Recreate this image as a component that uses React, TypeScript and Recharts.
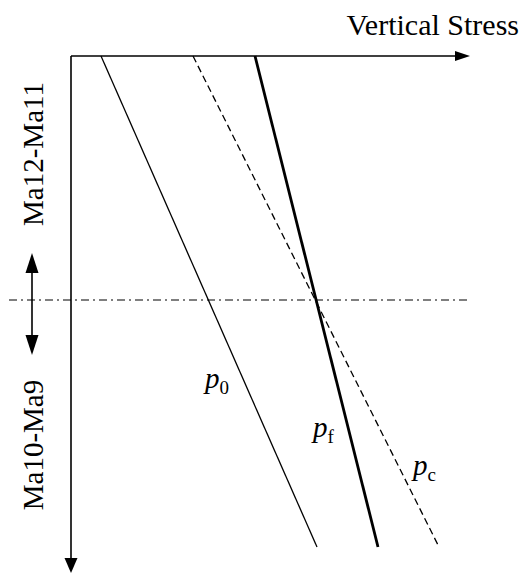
import { ScatterChart, Scatter, XAxis, YAxis } from 'recharts';

// Pressure profiles: x = stress, y = depth (0 at the top of the section)
const P0 = [
  { x: 7.5, y: 0 },
  { x: 61.5, y: 98.2 },
];
const PF = [
  { x: 46, y: 0 },
  { x: 76.75, y: 98.2 },
];
const PC = [
  { x: 30.5, y: 0 },
  { x: 91.75, y: 97.8 },
];

// Formation boundary between Ma12-Ma11 and Ma10-Ma9
const BOUNDARY = [
  { x: -15.5, y: 48.8 },
  { x: 99.75, y: 48.8 },
];

const STRESS_AXIS = [
  { x: 0, y: 0 },
  { x: 97, y: 0 },
];
const DEPTH_AXIS = [
  { x: 0, y: 0 },
  { x: 0, y: 101 },
];
const AXIS_HEADS = [
  { x: 99.75, y: 0, dir: 'right' },
  { x: 0, y: 103.4, dir: 'down' },
];

const RANGE_ARROW = [
  { x: -9.75, y: 41 },
  { x: -9.75, y: 58 },
];
const RANGE_HEADS = [
  { x: -9.75, y: 39.4, dir: 'up' },
  { x: -9.75, y: 59.8, dir: 'down' },
];

const CURVE_LABELS = [
  { x: 33.5, y: 66.4, main: 'p', sub: '0' },
  { x: 60.5, y: 76.2, main: 'p', sub: 'f' },
  { x: 85.5, y: 83.8, main: 'p', sub: 'c' },
];
const TITLE = [{ x: 112, y: -4.2, text: 'Vertical Stress' }];
const ZONE_LABELS = [
  { x: -7, y: 19.6, text: 'Ma12-Ma11' },
  { x: -7, y: 77.8, text: 'Ma10-Ma9' },
];

const FONT = "'Liberation Serif', 'Times New Roman', Times, serif";

const noDot = () => <g />;

const headPoints = (cx: number, cy: number, dir: string, len: number, half: number) => {
  switch (dir) {
    case 'right':
      return `${cx},${cy} ${cx - len},${cy - half} ${cx - len},${cy + half}`;
    case 'up':
      return `${cx},${cy} ${cx - half},${cy + len} ${cx + half},${cy + len}`;
    default:
      return `${cx},${cy} ${cx - half},${cy - len} ${cx + half},${cy - len}`;
  }
};

const axisHead = (props: any) => {
  const { cx, cy, payload } = props;
  const half = payload.dir === 'right' ? 5 : 6.5;
  return <polygon points={headPoints(cx, cy, payload.dir, 15, half)} fill="#000" />;
};

const rangeHead = (props: any) => {
  const { cx, cy, payload } = props;
  return <polygon points={headPoints(cx, cy, payload.dir, 20, 6.5)} fill="#000" />;
};

const curveLabel = (props: any) => {
  const { cx, cy, payload } = props;
  return (
    <text x={cx} y={cy} style={{ fontFamily: FONT }} fill="#000">
      <tspan style={{ fontStyle: 'italic', fontSize: 29 }}>{payload.main}</tspan>
      <tspan style={{ fontSize: 19 }} dy={6}>
        {payload.sub}
      </tspan>
    </text>
  );
};

const titleLabel = (props: any) => {
  const { cx, cy, payload } = props;
  return (
    <text x={cx} y={cy} textAnchor="end" style={{ fontFamily: FONT, fontSize: 30 }} fill="#000">
      {payload.text}
    </text>
  );
};

const zoneLabel = (props: any) => {
  const { cx, cy, payload } = props;
  return (
    <text
      x={cx}
      y={cy}
      textAnchor="middle"
      transform={`rotate(-90, ${cx}, ${cy})`}
      style={{ fontFamily: FONT, fontSize: 29 }}
      fill="#000"
    >
      {payload.text}
    </text>
  );
};

export default function App() {
  return (
    <div style={{ position: 'absolute', left: 0, top: 0, background: '#fff' }}>
      <ScatterChart width={523} height={573} margin={{ top: 0, right: 0, bottom: 0, left: 0 }}>
        <XAxis type="number" dataKey="x" domain={[-17.75, 113]} allowDataOverflow hide />
        <YAxis type="number" dataKey="y" domain={[-11.2, 103.4]} allowDataOverflow reversed hide />

        <Scatter data={STRESS_AXIS} line={{ stroke: '#000', strokeWidth: 1.6 }} shape={noDot} isAnimationActive={false} />
        <Scatter data={DEPTH_AXIS} line={{ stroke: '#000', strokeWidth: 1.6 }} shape={noDot} isAnimationActive={false} />
        <Scatter data={AXIS_HEADS} shape={axisHead} isAnimationActive={false} />

        <Scatter
          data={BOUNDARY}
          line={{ stroke: '#000', strokeWidth: 1.2, strokeDasharray: '8 4 2 4' }}
          shape={noDot}
          isAnimationActive={false}
        />
        <Scatter data={RANGE_ARROW} line={{ stroke: '#000', strokeWidth: 1.6 }} shape={noDot} isAnimationActive={false} />
        <Scatter data={RANGE_HEADS} shape={rangeHead} isAnimationActive={false} />

        <Scatter data={P0} line={{ stroke: '#000', strokeWidth: 1.3 }} shape={noDot} isAnimationActive={false} />
        <Scatter data={PF} line={{ stroke: '#000', strokeWidth: 2.8 }} shape={noDot} isAnimationActive={false} />
        <Scatter
          data={PC}
          line={{ stroke: '#000', strokeWidth: 1.3, strokeDasharray: '7 4' }}
          shape={noDot}
          isAnimationActive={false}
        />

        <Scatter data={CURVE_LABELS} shape={curveLabel} isAnimationActive={false} />
        <Scatter data={TITLE} shape={titleLabel} isAnimationActive={false} />
        <Scatter data={ZONE_LABELS} shape={zoneLabel} isAnimationActive={false} />
      </ScatterChart>
    </div>
  );
}
